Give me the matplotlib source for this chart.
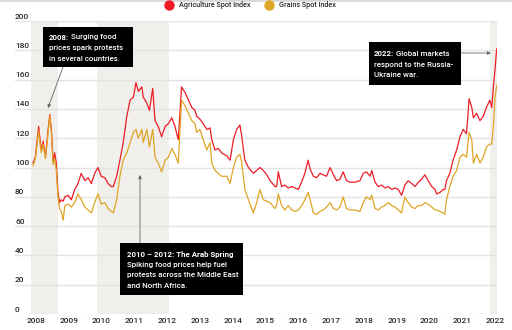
import matplotlib
matplotlib.use('Agg')
import matplotlib.pyplot as plt
from matplotlib.patches import Rectangle
from matplotlib.lines import Line2D

plt.rcParams['font.family'] = ['Roboto', 'DejaVu Sans']
plt.rcParams['font.weight'] = 500

# fractional years
years = [2008.06, 2008.13, 2008.23, 2008.31, 2008.37, 2008.44, 2008.52, 2008.57, 2008.62, 2008.67,
         2008.72, 2008.77, 2008.82, 2008.87, 2008.92, 2008.98, 2009.03, 2009.13, 2009.23, 2009.33,
         2009.43, 2009.53, 2009.64, 2009.74, 2009.84, 2009.94, 2010.04, 2010.14, 2010.25, 2010.35,
         2010.45, 2010.51, 2010.61, 2010.71, 2010.81, 2010.92, 2011.02, 2011.12, 2011.20, 2011.27,
         2011.38, 2011.42, 2011.53, 2011.61, 2011.71, 2011.78, 2011.88, 2011.98, 2012.09, 2012.19,
         2012.29, 2012.39, 2012.49, 2012.59, 2012.70, 2012.80, 2012.90, 2013.00, 2013.05, 2013.15,
         2013.25, 2013.36, 2013.46, 2013.51, 2013.61, 2013.71, 2013.81, 2013.97, 2014.07, 2014.17,
         2014.27, 2014.37, 2014.42, 2014.52, 2014.63, 2014.78, 2014.88, 2014.98, 2015.08, 2015.19,
         2015.29, 2015.44, 2015.49, 2015.54, 2015.64, 2015.74, 2015.84, 2015.95, 2016.05, 2016.15,
         2016.25, 2016.35, 2016.45, 2016.51, 2016.61, 2016.71, 2016.81, 2016.91, 2017.01, 2017.12,
         2017.22, 2017.32, 2017.42, 2017.52, 2017.62, 2017.73, 2017.88, 2018.03, 2018.13, 2018.23,
         2018.34, 2018.39, 2018.49, 2018.59, 2018.69, 2018.79, 2018.89, 2019.00, 2019.10, 2019.20,
         2019.30, 2019.40, 2019.50, 2019.61, 2019.71, 2019.81, 2019.91, 2020.01, 2020.11, 2020.22,
         2020.32, 2020.37, 2020.47, 2020.57, 2020.62, 2020.67, 2020.77, 2020.87, 2020.98, 2021.08,
         2021.18, 2021.28, 2021.36, 2021.44, 2021.49, 2021.59, 2021.69, 2021.79, 2021.89, 2021.99,
         2022.05, 2022.10, 2022.15, 2022.20]

agri = [103, 107, 128, 112, 118, 107, 126, 136, 126, 104,
        110, 103, 83, 76, 78, 77, 80, 81, 78, 85,
        89, 96, 91, 93, 89, 96, 100, 94, 93, 89,
        87, 87, 94, 105, 117, 135, 146, 148, 158, 152,
        155, 148, 144, 139, 154, 132, 128, 121, 128, 130,
        134, 128, 119, 155, 151, 146, 141, 139, 135, 133,
        130, 126, 127, 119, 112, 113, 110, 108, 105, 119,
        126, 129, 122, 105, 100, 96, 98, 100, 98, 95,
        91, 87, 87, 97, 87, 88, 86, 87, 86, 85,
        90, 96, 105, 99, 94, 93, 96, 95, 94, 100,
        95, 91, 92, 97, 91, 90, 90, 91, 96, 97,
        94, 98, 90, 87, 88, 86, 87, 85, 86, 85,
        81, 88, 91, 89, 87, 90, 92, 95, 91, 87,
        85, 82, 83, 85, 85, 91, 96, 105, 112, 121,
        126, 123, 147, 141, 134, 137, 132, 135, 141, 146,
        141, 155, 167, 181]

grains = [101, 106, 125, 110, 116, 106, 124, 135, 124, 102,
          106, 98, 80, 72, 70, 64, 74, 75, 73, 76,
          82, 78, 73, 71, 69, 76, 82, 75, 76, 72,
          70, 69, 78, 94, 105, 110, 117, 124, 126, 120,
          126, 117, 126, 114, 126, 107, 103, 97, 105, 107,
          113, 109, 103, 146, 142, 137, 132, 130, 124, 126,
          119, 112, 117, 103, 98, 96, 94, 94, 89, 100,
          107, 109, 104, 85, 78, 69, 76, 85, 78, 77,
          76, 72, 74, 82, 74, 71, 74, 71, 70, 71,
          74, 78, 83, 78, 69, 68, 70, 71, 73, 76,
          72, 71, 73, 80, 72, 71, 71, 70, 76, 80,
          78, 81, 72, 71, 73, 74, 76, 74, 73, 71,
          69, 80, 76, 73, 72, 74, 74, 76, 75, 73,
          71, 71, 70, 69, 68, 78, 87, 94, 98, 107,
          109, 107, 124, 119, 103, 109, 103, 107, 114, 116,
          116, 128, 148, 156]

year_ticks = list(range(2008, 2023))
value_ticks = list(range(0, 201, 20))
shade_spans = [(2008.0, 2008.82), (2010.01, 2012.21), (2021.99, 2022.21)]

W, H = 512, 330
RED = '#ee1c25'
GOLD = '#dfa526'
TXT = '#2b2b2b'

fig = plt.figure(figsize=(W / 100, H / 100), dpi=100)
renderer = fig.canvas.get_renderer()


def fit(text, width, weight=500):
    # font size that makes text about `width` pixels wide
    t = fig.text(0, 0, text, fontsize=10, fontweight=weight)
    w = t.get_window_extent(renderer).width
    t.remove()
    return 10 * width / w


FS_NOTE = fit('prices spark protests', 74)
FS_TICK = fit('2008', 19)
FS_LEG = fit('Agriculture Spot Index', 72)

ax = fig.add_axes([15 / W, 1 - 314 / H, (497 - 15) / W, (314 - 21) / H])
ax.set_xlim(2007.51, 2022.21)
ax.set_ylim(0, 200)

for a, b in shade_spans:
    ax.axvspan(a, b, color='#f0efeb', lw=0, zorder=0)
for v in value_ticks:
    ax.axhline(v, color='#e3e3e3', lw=1.0, zorder=1)
    ax.text(0.0, v + 1, str(v), transform=ax.get_yaxis_transform(), fontsize=FS_TICK,
            color=TXT, ha='left', va='bottom')

ax.plot(years, agri, color=RED, lw=0.9, zorder=3)
ax.plot(years, grains, color=GOLD, lw=0.9, zorder=4)

for s in ax.spines.values():
    s.set_visible(False)
ax.set_yticks([])
ax.set_xticks([y + 0.15 for y in year_ticks])
ax.set_xticklabels([str(y) for y in year_ticks], fontsize=FS_TICK, color=TXT)
ax.tick_params(axis='x', length=0, pad=3)

# top rule and legend
fig.add_artist(Line2D([0, 1], [1, 1], transform=fig.transFigure, color='#d8d8d8', lw=2))
for cx, col, label in [(169, RED, 'Agriculture Spot Index'), (269, GOLD, 'Grains Spot Index')]:
    fig.add_artist(Line2D([cx / W], [1 - 5 / H], transform=fig.transFigure, marker='o',
                          markersize=6.5, color=col, lw=0))
    fig.text((cx + 10) / W, 1 - 5 / H, label, fontsize=FS_LEG, color=TXT, va='center', ha='left')


def note(box, tx, first_y, lh, lines):
    x0, y0, x1, y1 = box
    fig.add_artist(Rectangle((x0 / W, 1 - y1 / H), (x1 - x0) / W, (y1 - y0) / H,
                             transform=fig.transFigure, facecolor='black', edgecolor='none', zorder=5))
    for i, (bold, rest) in enumerate(lines):
        ty = 1 - (first_y + i * lh) / H
        x = tx
        if bold:
            t = fig.text(x / W, ty, bold, fontsize=FS_NOTE, color='white', fontweight='bold',
                         va='center', ha='left', zorder=6)
            x = x + t.get_window_extent(renderer).width
        if rest:
            fig.text(x / W, ty, rest, fontsize=FS_NOTE, color='white', va='center', ha='left', zorder=6)


note((43, 27, 133, 67), 49, 37, 11,
     [('2008:', ' Surging food'), ('', 'prices spark protests'), ('', 'in several countries.')])
note((369, 42, 461, 85), 374, 54, 10.5,
     [('2022:', ' Global markets'), ('', 'respond to the Russia-'), ('', 'Ukraine war.')])
note((120, 243, 243, 295), 127, 254, 10.6,
     [('2010 – 2012: The Arab Spring', ''), ('', 'Spiking food prices help fuel'),
      ('', 'protests across the Middle East'), ('', 'and North Africa.')])

arrow = dict(arrowstyle='-|>', color='#666666', lw=0.6, mutation_scale=5, shrinkA=0, shrinkB=0)
for (sx, sy), (ex, ey) in [((63, 67), (48, 108)), ((461, 53), (491, 53)), ((140, 243), (140, 175))]:
    ax.annotate('', xy=(ex, H - ey), xytext=(sx, H - sy), xycoords='figure pixels',
                textcoords='figure pixels', arrowprops=arrow, zorder=5)

fig.savefig('out.png', dpi=100)
